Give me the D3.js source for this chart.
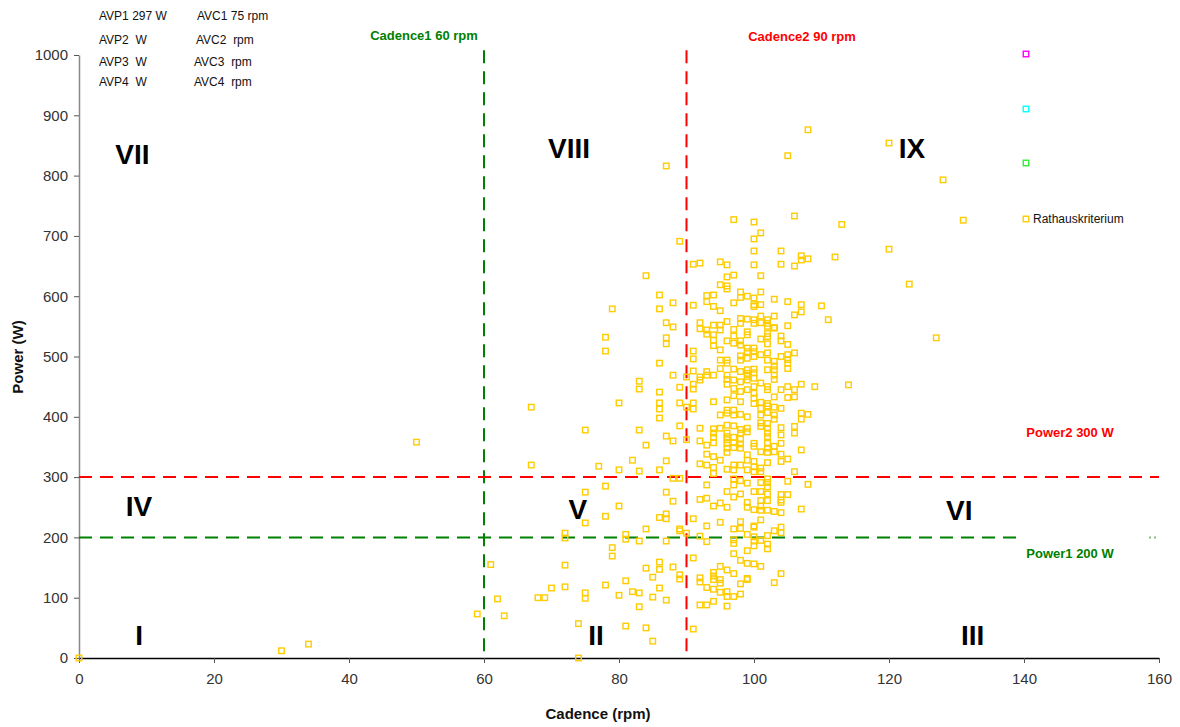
<!DOCTYPE html>
<html><head><meta charset="utf-8">
<script src="https://cdn.jsdelivr.net/npm/d3@7"></script>
<style>
body{margin:0;background:#fff}
svg{font-family:"Liberation Sans",Arial,sans-serif;display:block}
text.pre{white-space:pre}
</style>
</head><body>
<svg id="chart" width="1180" height="727"></svg>
<script>
// ---------------- data ----------------
const seriesName = "Rathauskriterium";
const xTicks = [0,20,40,60,80,100,120,140,160];
const yTicks = [0,100,200,300,400,500,600,700,800,900,1000];
const cadenceLimits = [60, 90];   // Cadence1, Cadence2
const powerLimits = [200, 300];   // Power1, Power2
const zoneLabels = ["I","II","III","IV","V","VI","VII","VIII","IX"];
const zoneCadence = [8.9, 76.6, 132.4, 8.9, 73.9, 130.4, 7.9, 72.6, 123.4];
const zonePower = [37, 37, 37, 252, 247, 245, 835, 845, 845];
const summaryLines = [["AVP1 297 W","AVC1 75 rpm"],["AVP2  W","AVC2  rpm"],["AVP3  W","AVC3  rpm"],["AVP4  W","AVC4  rpm"]];
const legendColors = ["#ff00ff","#00ffff","#33ee33","#ffcc00"];

// [cadence rpm, power W]
const points = [
 [0,0],[30,12],[34,23],[50,358],[59,73],[61,155],[62,98],[63,70],[67,416],[67,320],
 [68,100],[69,100],[70,116],[72,118],[72,154],[72,207],[72,199],[74,0],[74,57],[75,275],
 [75,224],[75,108],[75,99],[75,378],[78,285],[78,235],[79,183],[79,169],[80,252],[81,205],
 [81,197],[81,128],[80,104],[78,121],[82,110],[83,108],[83,85],[81,53],[84,50],[85,28],
 [83,194],[84,214],[84,149],[85,134],[86,233],[87,239],[87,231],[87,194],[86,159],[86,147],
 [86,116],[85,101],[87,96],[87,275],[88,260],[88,151],[89,214],[89,211],[90,207],[89,138],
 [89,131],[91,231],[91,166],[91,48],[92,263],[92,202],[92,133],[92,126],[92,88],
 [86,602],[88,589],[91,585],[79,579],[86,579],[87,556],[88,549],[92,556],[92,546],[78,532],
 [87,531],[87,521],[78,509],[91,509],[91,496],[86,489],[91,476],[88,469],[90,466],[92,466],
 [92,461],[83,459],[89,449],[91,454],[91,446],[83,446],[86,441],[80,423],[86,423],[86,413],
 [89,423],[90,416],[91,423],[91,413],[86,398],[89,385],[92,381],[83,378],[87,368],[88,360],
 [90,362],[92,360],[84,353],[82,328],[87,327],[92,322],[77,318],[80,312],[83,310],[86,312],
 [88,298],[89,298],
 [87,816],[108,876],[105,833],[106,733],[97,727],[100,723],[101,705],[89,691],[100,695],[100,675],
 [104,675],[107,667],[107,660],[108,662],[112,665],[113,719],[91,653],[92,655],[95,657],[96,652],
 [100,652],[104,653],[106,650],[84,634],[96,632],[97,635],[101,634],[95,619],[96,617],[96,612],
 [120,854],[128,793],[131,726],[120,678],[123,620],[127,531],[111,561],[110,584],[114,453],[100,597],
 [93,601],[93,591],[93,544],[93,537],[93,475],[93,469],[93,353],[93,338],[93,320],
 [94,602],[94,583],[94,552],[94,536],[94,527],[94,518],[94,469],[94,425],[94,380],[94,373],[94,366],[94,357],[94,334],[94,316],[94,306],
 [95,576],[95,552],[95,544],[95,511],[95,494],[95,480],[95,403],[95,381],[95,328],
 [96,558],[96,526],[96,494],[96,489],[96,469],[96,462],[96,454],[96,428],[96,411],[96,406],[96,386],[96,373],[96,367],[96,362],[96,356],[96,348],[96,341],[96,313],
 [97,589],[97,545],[97,534],[97,522],[97,479],[97,461],[97,447],[97,435],[97,411],[97,403],[97,385],[97,366],[97,357],[97,349],[97,320],
 [98,607],[98,598],[98,563],[98,555],[98,526],[98,519],[98,501],[98,494],[98,475],[98,458],[98,442],[98,425],[98,404],[98,379],[98,373],[98,363],[98,355],[98,348],[98,320],
 [99,600],[99,562],[99,541],[99,536],[99,514],[99,508],[99,497],[99,478],[99,472],[99,467],[99,461],[99,445],[99,400],[99,381],[99,375],[99,337],[99,328],[99,312],
 [100,586],[100,583],[100,561],[100,555],[100,514],[100,508],[100,500],[100,479],[100,473],[100,464],[100,450],[100,439],[100,431],[100,422],[100,356],[100,351],[100,326],[100,317],[100,309],
 [101,607],[101,586],[101,567],[101,556],[101,529],[101,503],[101,456],[101,424],[101,414],[101,403],[101,390],[101,384],[101,342],[101,315],[101,309],
 [102,561],[102,555],[102,550],[102,538],[102,533],[102,521],[102,506],[102,494],[102,478],[102,450],[102,445],[102,422],[102,418],[102,407],[102,389],[102,381],[102,373],[102,367],[102,356],[102,348],[102,341],[102,324],
 [103,595],[103,567],[103,548],[103,547],[103,492],[103,484],[103,478],[103,469],[103,462],[103,433],[103,416],[103,403],[103,396],[103,351],[103,342],
 [104,534],[104,526],[104,500],[104,445],[104,414],[104,382],[104,370],[104,356],[104,338],[104,326],
 [105,591],[105,551],[105,520],[105,503],[105,495],[105,489],[105,480],[105,450],[105,432],[105,330],
 [106,569],[106,506],[106,445],[106,433],[106,384],[106,373],
 [107,586],[107,574],[107,454],[107,406],[107,396],[107,345],[108,404],[109,450],
 [93,287],[93,265],[93,219],[93,193],[93,117],[93,88],
 [94,252],[94,142],[94,136],[94,130],[94,114],[94,94],
 [95,257],[95,225],[95,152],[95,130],[95,124],[95,109],
 [96,276],[96,250],[96,146],[96,110],[96,102],[96,86],
 [97,312],[97,297],[97,287],[97,267],[97,214],[97,196],[97,190],[97,173],[97,140],[97,102],
 [98,294],[98,272],[98,226],[98,215],[98,162],[98,123],[98,106],
 [99,290],[99,258],[99,250],[99,205],[99,178],[99,157],[99,132],[99,130],
 [100,276],[100,246],[100,219],[100,217],[100,201],[100,194],[100,186],[100,156],
 [101,291],[101,276],[101,261],[101,252],[101,245],[101,229],[101,195],[101,152],
 [102,297],[102,291],[102,284],[102,272],[102,261],[102,245],[102,203],[102,189],[102,181],
 [103,243],[103,211],[103,125],
 [104,271],[104,262],[104,258],[104,241],[104,217],[104,208],[104,140],
 [105,293],[105,271],[106,309],[107,247],[108,288]
];

// ---------------- drawing ----------------
const svg = d3.select("#chart");
const x = d3.scaleLinear().domain([0,160]).range([79,1159]);
const y = d3.scaleLinear().domain([0,1000]).range([658,55]);

// summary text top-left
const sumG = svg.append("g").attr("font-size", 12).attr("fill", "#111");
const sumY = [20, 44, 66, 86];
const sumX2 = [197, 196, 194, 194];
summaryLines.forEach((row, i) => {
  sumG.append("text").attr("class","pre").attr("x", 99).attr("y", sumY[i]).text(row[0]);
  sumG.append("text").attr("class","pre").attr("x", sumX2[i]).attr("y", sumY[i]).text(row[1]);
});

// axes
const xAxis = svg.append("g").attr("transform", `translate(0,${y(0)})`)
  .call(d3.axisBottom(x).tickValues(xTicks).tickSize(5).tickSizeOuter(0).tickPadding(10).tickFormat(d3.format("d")));
xAxis.select(".domain").attr("stroke", "#000").attr("stroke-width", 1.5);
xAxis.selectAll(".tick line").attr("stroke", "#555");
xAxis.selectAll(".tick text").attr("font-size", 15).attr("fill", "#333").attr("font-family", "Liberation Sans, Arial, sans-serif");

const yAxis = svg.append("g").attr("transform", `translate(${x(0)},0)`)
  .call(d3.axisLeft(y).tickValues(yTicks).tickSize(5).tickSizeOuter(0).tickPadding(6).tickFormat(d3.format("d")));
yAxis.select(".domain").attr("stroke", "#888").attr("stroke-width", 1.5);
yAxis.selectAll(".tick line").attr("stroke", "#555");
yAxis.selectAll(".tick text").attr("font-size", 15).attr("fill", "#333").attr("font-family", "Liberation Sans, Arial, sans-serif");

// axis titles
svg.append("text").attr("x", 598).attr("y", 719).attr("text-anchor","middle")
  .attr("font-size", 15).attr("font-weight","bold").attr("fill","#111").text("Cadence (rpm)");
svg.append("text").attr("transform", `translate(23,357) rotate(-90)`).attr("text-anchor","middle")
  .attr("font-size", 15).attr("font-weight","bold").attr("fill","#111").text("Power (W)");

// reference lines
const refColors = ["#008000", "#ff0000"];
const dash = "13,8";
cadenceLimits.forEach((c, i) => {
  svg.append("line").attr("x1", x(c)).attr("x2", x(c)).attr("y1", y(1008)).attr("y2", y(0))
    .attr("stroke", refColors[i]).attr("stroke-width", 2).attr("stroke-dasharray", dash);
});
svg.append("line").attr("x1", x(0)).attr("x2", x(160)).attr("y1", y(powerLimits[1])).attr("y2", y(powerLimits[1]))
  .attr("stroke", refColors[1]).attr("stroke-width", 2).attr("stroke-dasharray", dash);
svg.append("line").attr("x1", x(0)).attr("x2", x(139.3)).attr("y1", y(powerLimits[0])).attr("y2", y(powerLimits[0]))
  .attr("stroke", refColors[0]).attr("stroke-width", 2).attr("stroke-dasharray", dash);
svg.append("line").attr("x1", x(158.6)).attr("x2", x(160)).attr("y1", y(powerLimits[0])).attr("y2", y(powerLimits[0]))
  .attr("stroke", refColors[0]).attr("stroke-width", 2).attr("stroke-dasharray", "1,4");

// reference labels
const lblG = svg.append("g").attr("font-size", 13).attr("font-weight", "bold").attr("text-anchor","middle");
lblG.append("text").attr("x", 424).attr("y", 40).attr("fill", refColors[0]).text(`Cadence1 ${cadenceLimits[0]} rpm`);
lblG.append("text").attr("x", 802).attr("y", 41).attr("fill", refColors[1]).text(`Cadence2 ${cadenceLimits[1]} rpm`);
lblG.append("text").attr("x", 1070).attr("y", 437).attr("fill", refColors[1]).text(`Power2 ${powerLimits[1]} W`);
lblG.append("text").attr("x", 1070).attr("y", 558).attr("fill", refColors[0]).text(`Power1 ${powerLimits[0]} W`);

// zone numerals
svg.append("g").selectAll("text").data(zoneLabels).join("text")
  .attr("x", (d,i) => x(zoneCadence[i])).attr("y", (d,i) => y(zonePower[i]))
  .attr("text-anchor","middle").attr("dominant-baseline","central")
  .attr("font-size", 28).attr("font-weight","bold").attr("fill","#000").text(d => d);

// points
const s = 5.5;
svg.append("g").selectAll("rect").data(points).join("rect")
  .attr("x", d => x(d[0]) - s/2).attr("y", d => y(d[1]) - s/2)
  .attr("width", s).attr("height", s)
  .attr("fill", "none").attr("stroke", "#ffcc00").attr("stroke-width", 1.4);

// legend
const legY = [54, 109, 163, 219];
legendColors.forEach((c, i) => {
  svg.append("rect").attr("x", 1026 - s/2).attr("y", legY[i] - s/2).attr("width", s).attr("height", s)
    .attr("fill", "none").attr("stroke", c).attr("stroke-width", 1.4);
});
svg.append("text").attr("x", 1033).attr("y", legY[3] + 4).attr("font-size", 12).attr("fill", "#111").text(seriesName);
</script>
</body></html>
